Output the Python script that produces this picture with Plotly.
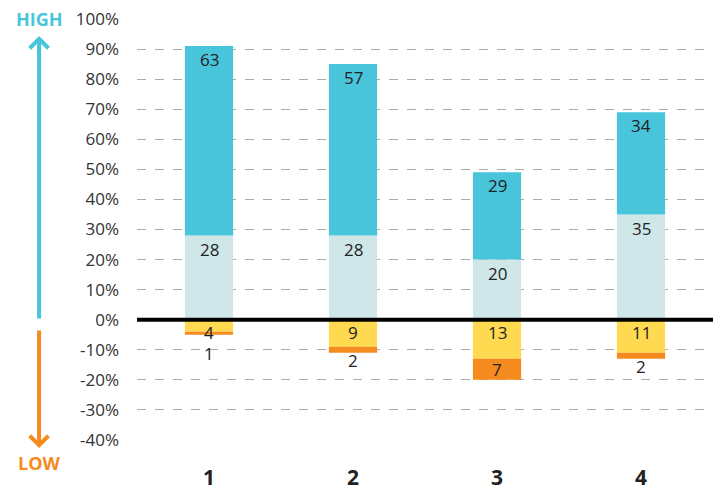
import plotly.graph_objects as go

categories = ["1", "2", "3", "4"]
light_pos = [28, 28, 20, 35]
dark_pos = [63, 57, 29, 34]
yellow_neg = [4, 9, 13, 11]
orange_neg = [1, 2, 7, 2]
y_ticks = [-40, -30, -20, -10, 0, 10, 20, 30, 40, 50, 60, 70, 80, 90, 100]
y_tick_labels = [f"{v}%" for v in y_ticks]

C_DARK = "#48C5DA"
C_LIGHT = "#CFE7E9"
C_YEL = "#FFD94F"
C_ORA = "#F58A1F"
FONT = "Open Sans"
TXT = "#222222"

fig = go.Figure()
for vals, col in [(light_pos, C_LIGHT), (dark_pos, C_DARK),
                  ([-v for v in yellow_neg], C_YEL), ([-v for v in orange_neg], C_ORA)]:
    fig.add_bar(x=categories, y=vals, marker=dict(color=col, line=dict(width=0)), width=0.335)

ann = []
for i in range(len(categories)):
    ann.append(dict(x=i, y=light_pos[i] - 4.5, text=str(light_pos[i]), showarrow=False))
    ann.append(dict(x=i, y=light_pos[i] + dark_pos[i] - 4.5, text=str(dark_pos[i]), showarrow=False))
    yl = -4.3
    ann.append(dict(x=i, y=yl, text=str(yellow_neg[i]), showarrow=False))
    bottom = -(yellow_neg[i] + orange_neg[i])
    if orange_neg[i] >= 5:
        yo = bottom + orange_neg[i] / 2
    else:
        yo = min(bottom - 2.5, yl - 7.0)
    ann.append(dict(x=i, y=yo, text=str(orange_neg[i]), showarrow=False))
for a in ann:
    a.update(font=dict(family=FONT, size=17, color=TXT), xref="x", yref="y")

ax_x = -0.170
ann += [
    dict(xref="paper", yref="paper", x=ax_x, y=1.0, xanchor="center", yanchor="middle",
         text="<b>HIGH</b>", showarrow=False, font=dict(family=FONT, size=18, color=C_DARK)),
    dict(xref="paper", yref="paper", x=ax_x, y=-0.0546, xanchor="center", yanchor="middle",
         text="<b>LOW</b>", showarrow=False, font=dict(family=FONT, size=18, color=C_ORA)),
    dict(xref="paper", yref="paper", x=ax_x, y=0.9596, ax=0, ay=284,
         showarrow=True, arrowhead=4, arrowsize=0.9, arrowwidth=4, arrowcolor=C_DARK, text=""),
    dict(xref="paper", yref="paper", x=ax_x, y=-0.019, ax=0, ay=-119,
         showarrow=True, arrowhead=4, arrowsize=0.9, arrowwidth=4, arrowcolor=C_ORA, text=""),
]

fig.update_layout(
    barmode="relative",
    width=715, height=491,
    margin=dict(l=137, r=2, t=19, b=51, autoexpand=False),
    paper_bgcolor="white", plot_bgcolor="white",
    showlegend=False,
    annotations=ann,
    shapes=[dict(type="line", xref="paper", yref="y", x0=0, x1=1, y0=0, y1=0,
                 line=dict(color="black", width=4))],
    font=dict(family=FONT, color=TXT),
)
fig.update_yaxes(range=[-40, 100], tickvals=y_ticks, ticktext=y_tick_labels,
                 showgrid=True, gridcolor="#ABABAB", griddash="dash", gridwidth=1.3,
                 zeroline=False, tickfont=dict(family=FONT, size=17, color="#333333"),
                 ticklabelstandoff=17, showline=False, automargin=False)
fig.update_xaxes(type="category", tickvals=categories,
                 ticktext=[f"<b>{c}</b>" for c in categories],
                 tickfont=dict(family=FONT, size=21, color=TXT), showline=False,
                 ticklabelstandoff=23, automargin=False, range=[-0.5, 3.5])

fig.write_html("out.html", config={"displayModeBar": False},
               post_script="document.body.style.margin='0';")
